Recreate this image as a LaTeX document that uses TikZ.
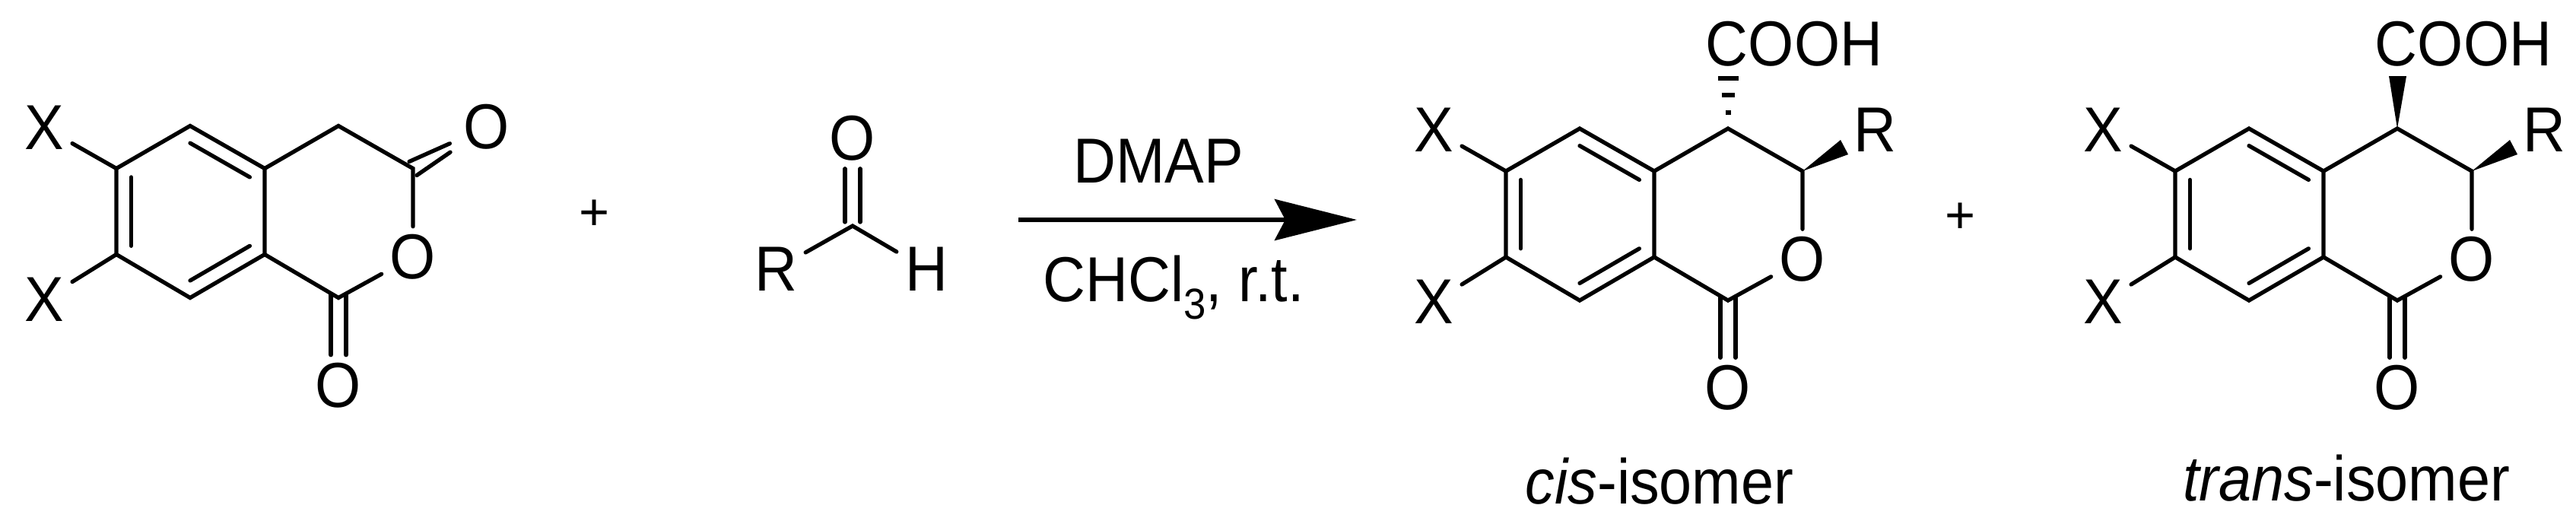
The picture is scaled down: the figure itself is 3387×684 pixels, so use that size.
\documentclass[tikz,border=0pt]{standalone}
\usepackage{fontspec}
\setmainfont{Liberation Sans}
\usetikzlibrary{arrows.meta,calc}
\tikzstyle{bond}=[line width=1.5pt,line cap=round]
\tikzstyle{atom}=[inner sep=3pt,text height=.57cm,text depth=0pt,font=\fontsize{22}{26}\selectfont]
\tikzstyle{plus}=[inner sep=0pt,font=\fontsize{19.5}{24}\selectfont]
\tikzstyle{rxnarrow}=[line width=1.6pt,-{Stealth[length=1.08cm,width=.54cm,inset=.14cm]}]
\newcommand{\lab}[1]{\scalebox{1}[1.08]{#1}}

\begin{document}
\begin{tikzpicture}[x=.01cm,y=-.01cm]
	\useasboundingbox (0,0) rectangle (3387,684);
	% the same ring system three times
	\foreach \m/\dx/\dy in {a/-1827/-3.5, c/0/0, t/880/0}{
		\begin{scope}[shift={(\dx,\dy)}]
			\coordinate (C1\m) at (1980,225);
			\coordinate (C2\m) at (2077,169);
			\coordinate (C3\m) at (2175,225);
			\coordinate (C4\m) at (2175,338);
			\coordinate (C5\m) at (2077,395);
			\coordinate (C6\m) at (1980,338);
			\coordinate (C7\m) at (2272,169);
			\coordinate (C8\m) at (2370,225);
			\coordinate (C9\m) at (2272,395);
			\coordinate (mid\m) at (2077,282);
			\node (X1\m)[atom] at (1885,171) {\lab{X}};
			\node (X2\m)[atom] at (1885,397) {\lab{X}};
			\node (O1\m)[atom] at (2370,341) {\lab{O}};
			\node (O2\m)[atom] at (2272,510) {\lab{O}};

			\draw[bond] (C1\m) -- (C2\m) -- (C3\m) -- (C4\m) -- (C5\m) -- (C6\m) -- cycle;
			\draw[bond] ($(C1\m)!.2!(mid\m)$) -- ($(C6\m)!.2!(mid\m)$);
			\draw[bond] ($(C2\m)!.2!(mid\m)$) -- ($(C3\m)!.2!(mid\m)$);
			\draw[bond] ($(C4\m)!.2!(mid\m)$) -- ($(C5\m)!.2!(mid\m)$);
			\draw[bond] (C3\m) -- (C7\m) -- (C8\m) -- (O1\m) -- (C9\m) -- (C4\m);
			\draw[bond] (C1\m) -- (X1\m);
			\draw[bond] (C6\m) -- (X2\m);
			\draw[bond] ([shift={(-.1cm,.05cm)}]C9\m) -- ([xshift=-.1cm]O2\m.north);
			\draw[bond] ([shift={(.1cm,.05cm)}]C9\m) -- ([xshift=.1cm]O2\m.north);
		\end{scope}
	}

	% anhydride C=O
	\node (O3a)[atom] at (640,167) {\lab{O}};
	\draw[bond,shorten >=.08cm] ([shift={(-.05cm,.09cm)}]C8a) -- ([shift={(-.05cm,.09cm)}]O3a);
	\draw[bond,shorten >=.08cm] ([shift={(.05cm,-.09cm)}]C8a) -- ([shift={(.05cm,-.09cm)}]O3a);
	\node (P1)[plus] at (782,283) {+};

	% aldehyde
	\coordinate (Cald) at (1121,297);
	\node (Oald)[atom] at (1121,182) {\lab{O}};
	\node (Rald)[atom] at (1020,354) {\lab{R}};
	\node (Hald)[atom] at (1218,354) {\lab{H}};
	\draw[bond] (Rald) -- (Cald) -- (Hald);
	\draw[bond] ([shift={(-.1cm,.05cm)}]Cald) -- ([xshift=-.1cm]Oald.south);
	\draw[bond] ([shift={(.1cm,.05cm)}]Cald) -- ([xshift=.1cm]Oald.south);

	% reaction arrow
	\coordinate (arrA) at (1339,289);
	\coordinate (arrB) at (1784,289);
	\draw[rxnarrow] (arrA) -- (arrB);
	\node (dmap)[atom] at (1523,212) {\lab{DMAP}};
	\node (solv)[atom] at (1543,368) {\lab{CHCl\raisebox{-.28em}{\fontsize{15}{15}\selectfont 3}, r.t.}};

	% products
	\foreach \m/\dx in {c/0, t/880}{
		\begin{scope}[shift={(\dx,0)}]
			\node (R\m)[atom] at (2465,171) {\lab{R}};
			\node (acid\m)[atom] at (2359,58) {\lab{COOH}};
		\end{scope}
		\fill (C8\m) -- ++(50,-41) -- ++(10,19) -- cycle;
	}
	\foreach \d/\w in {21/3.5, 44/8.5, 66/13.5}{
		\draw[bond,line cap=butt] ($(C7c)+(-\w,-\d)$) -- ($(C7c)+(\w,-\d)$);
	}
	\fill (C7t) -- ++(-11,-69) -- ++(23,0) -- cycle;
	\node (P2)[plus] at (2577,287) {+};
	\node (lblc)[atom] at (2182,634) {\lab{\textit{cis}-isomer}};
	\node (lblt)[atom] at (3085,630) {\lab{\textit{trans}-isomer}};
\end{tikzpicture}
\end{document}
